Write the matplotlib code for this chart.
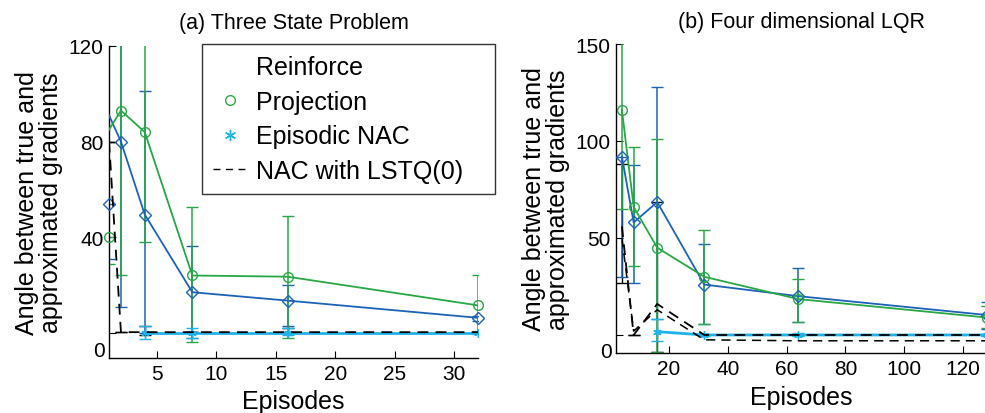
import matplotlib
matplotlib.use("Agg")
import matplotlib.pyplot as plt
import matplotlib.transforms as mtransforms
from matplotlib.lines import Line2D
import numpy as np

plt.rcParams['font.family'] = ['Liberation Sans', 'DejaVu Sans']

# (a) Three State Problem
ep_a = [1, 2, 4, 8, 16, 32]
proj_a_line = [85, 93, 84, 24, 23.5, 11.5]
proj_a = [40, 93, 84, 24, 23.5, 11.5]
proj_a_lo = [29, 24, 38, -4, -2, 0]
proj_a_hi = [40, 130, 130, 52.5, 49, 24]
rein_a_line = [91, 80, 49.5, 17, 13.5, 6.3]
rein_a = [54, 80, 49.5, 17, 13.5, 6.3]
rein_a_lo = [31, 11, 0, -2, 3, 5]
rein_a_hi = [54, 130, 101, 36.5, 20, 7]
enac_ep_a = [4, 8, 16, 32]
enac_a = [0, 0, 0, 0]
enac_a_lo = [-2.5, -2, -1, -0.5]
enac_a_hi = [3, 2, 2, 0.5]
lstq_a = [80, 0.3, 0.3, 0.3, 0.3, 0.3]
lstq_a_lo = [80, 0.3, -1, 0.3, 0.3, 0.3]
lstq_a_hi = [80, 0.3, 3, 0.3, 2, 0.3]

# (b) Four dimensional LQR
ep_b = [4, 8, 16, 32, 64, 128]
proj_b = [116, 66, 45, 30, 18.5, 9]
proj_b_lo = [65, 35.5, -9, 5.6, 6.7, 3.6]
proj_b_hi = [155, 97, 101, 54, 29, 15]
rein_b = [92, 58, 68.5, 26, 20, 10.3]
rein_b_lo = [30, 27, 8, 5.6, 6.7, 3]
rein_b_hi = [88, 87.5, 128, 47, 34.5, 17]
lstq_b = [56, 0, 16, 0, 0, 0]
lstq_b2 = [50, 2, 13, -2.5, -3, -3]
lstq_b_lo = [27, 0, -9, 0, 0, 0]
lstq_b_hi = [88, 0, 68.5, 0, 0, 0]
enac_ep_b = [16, 32, 64, 128]
enac_b = [1.7, 0, 0, 0]
enac_b_lo = [-3, -0.5, -0.5, -0.5]
enac_b_hi = [8, 0.5, 1, 0.5]

green = '#27a844'
blue = '#1c62b8'
cyan = '#1fb2ea'
asterisk = (6, 2, 0)

fig = plt.figure(figsize=(9.85, 4.14), dpi=100)
ax1 = fig.add_axes([0.1107, 0.1329, 0.3746, 0.7536])
ax2 = fig.add_axes([0.6254, 0.1449, 0.3763, 0.7464])


def yerr(vals, lo, hi):
    v = np.array(vals, dtype=float)
    return [np.clip(v - np.array(lo), 0, None), np.clip(np.array(hi) - v, 0, None)]


def panel(ax, ep, proj_line, proj, plo, phi, rein_line, rein, rlo, rhi,
          eep, enac, elo, ehi, lstq, llo, lhi):
    ax.errorbar(ep, lstq, yerr=yerr(lstq, llo, lhi), fmt='none', ecolor='k',
                elinewidth=1, capsize=4, zorder=2)
    ax.errorbar(ep, rein, yerr=yerr(rein, rlo, rhi), fmt='none', ecolor=blue,
                elinewidth=1.1, capsize=4, zorder=2)
    ax.errorbar(ep, proj, yerr=yerr(proj, plo, phi), fmt='none', ecolor=green,
                elinewidth=1.1, capsize=4, zorder=2)
    ax.errorbar(eep, enac, yerr=yerr(enac, elo, ehi), fmt='none', ecolor=cyan,
                elinewidth=1, capsize=4, zorder=2)
    ax.plot(ep, rein_line, color=blue, lw=1.3, zorder=3)
    ax.plot(ep, rein, ls='none', marker='D', ms=6.5, mfc='none', mec=blue, mew=1,
            zorder=4, clip_on=False)
    ax.plot(ep, proj_line, color=green, lw=1.3, zorder=3)
    ax.plot(ep, proj, ls='none', marker='o', ms=7, mfc='none', mec=green, mew=1,
            zorder=4, clip_on=False)
    ax.plot(eep, enac, color=cyan, lw=2, marker=asterisk, ms=6, mew=1, zorder=3)
    ax.plot(ep, lstq, color='k', lw=1.3, ls=(0, (6, 4)), zorder=5)


panel(ax1, ep_a, proj_a_line, proj_a, proj_a_lo, proj_a_hi, rein_a_line, rein_a,
      rein_a_lo, rein_a_hi, enac_ep_a, enac_a, enac_a_lo, enac_a_hi,
      lstq_a, lstq_a_lo, lstq_a_hi)
panel(ax2, ep_b, proj_b, proj_b, proj_b_lo, proj_b_hi, rein_b, rein_b,
      rein_b_lo, rein_b_hi, enac_ep_b, enac_b, enac_b_lo, enac_b_hi,
      lstq_b, lstq_b_lo, lstq_b_hi)
ax2.plot(ep_b, lstq_b2, color='k', lw=1.1, ls=(0, (6, 4)), zorder=5)

ax1.set_xlim(1, 32)
ax1.set_ylim(-10.5, 120)
ax1.set_xticks([5, 10, 15, 20, 25, 30])
ax1.set_yticks([0, 40, 80, 120])
ax1.set_yticklabels(['', '40', '80', '120'])

ax2.set_xlim(2, 128)
ax2.set_ylim(-9.3, 150)
ax2.set_xticks([20, 40, 60, 80, 100, 120])
ax2.set_yticks([0, 50, 100, 150])
ax2.set_yticklabels(['', '50', '100', '150'])

for ax, zero_y in ((ax1, -7.5), (ax2, -8.5)):
    for s in ('top', 'right'):
        ax.spines[s].set_visible(False)
    ax.spines['left'].set_linewidth(1)
    ax.spines['bottom'].set_linewidth(1)
    ax.tick_params(direction='in', length=5, labelsize=15, pad=4)
    trans = mtransforms.blended_transform_factory(ax.transAxes, ax.transData)
    ax.text(-0.012, zero_y, '0', transform=trans, ha='right', va='center', fontsize=15)
    ax.set_xlabel('Episodes', fontsize=18, labelpad=5)
    ax.set_ylabel('Angle between true and\napproximated gradients', fontsize=18,
                  linespacing=1.0, labelpad=4)

ax1.set_title('(a) Three State Problem', fontsize=15.5, pad=13)
ax2.set_title('(b) Four dimensional LQR', fontsize=15.5, pad=12)

handles = [
    Line2D([], [], ls='none'),
    Line2D([], [], ls='none', marker='o', ms=7, mfc='none', mec=green),
    Line2D([], [], ls='none', marker=asterisk, ms=8, mew=1, color=cyan),
    Line2D([], [], color='k', lw=1, ls=(0, (5, 4))),
]
labels = ['Reinforce', 'Projection', 'Episodic NAC', 'NAC with LSTQ(0)']
leg = fig.legend(handles, labels, loc='upper left', mode='expand',
                 bbox_to_anchor=(202 / 985, (414 - 193) / 414, 293 / 985, 148 / 414),
                 borderaxespad=0, fontsize=18,
                 frameon=True, fancybox=False, edgecolor='k', handlelength=1.3,
                 handletextpad=0.4, borderpad=0.45, labelspacing=0.42)
leg.get_frame().set_linewidth(1)

fig.savefig('out.png', dpi=100)
